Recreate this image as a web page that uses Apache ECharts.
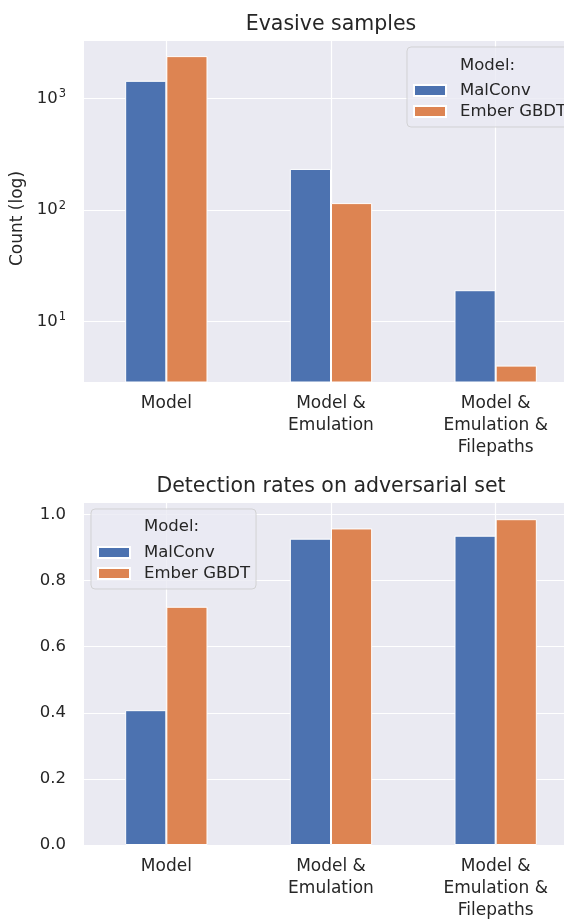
<!DOCTYPE html>
<html>
<head>
<meta charset="utf-8">
<script src="https://cdn.jsdelivr.net/npm/echarts@6/dist/echarts.min.js"></script>
<style>
  html, body { margin: 0; padding: 0; background: #ffffff; }
  #chart { width: 564px; height: 920px; }
</style>
</head>
<body>
<div id="chart"></div>
<script>
// Attack scenarios on the x axis
const categories = ['Model', 'Model &\nEmulation', 'Model &\nEmulation &\nFilepaths'];
const seriesNames = ['MalConv', 'Ember GBDT'];

// Number of evasive samples per scenario (log scale)
const evasiveMalConv = [1440, 233, 19];
const evasiveEmber = [2400, 115, 4];

// Detection rate on the adversarial set
const detectMalConv = [0.408, 0.927, 0.936];
const detectEmber = [0.721, 0.958, 0.986];

const FONT = 'DejaVu Sans';
const TEXT = '#262626';
const BLUE = '#4C72B0';
const ORANGE = '#DD8452';
const PANEL = '#EAEAF2';

const chart = echarts.init(document.getElementById('chart'), null, { renderer: 'canvas' });

function xAxisFor(gridIndex) {
  return {
    type: 'category',
    gridIndex: gridIndex,
    data: categories,
    axisLine: { show: false },
    axisTick: { show: false },
    axisLabel: {
      color: TEXT, fontFamily: FONT, fontSize: 17, lineHeight: 21.8,
      margin: 11, interval: 0
    },
    splitLine: { show: true, alignWithLabel: true, lineStyle: { color: '#ffffff', width: 1.2 } }
  };
}

function legendFor(left, top) {
  return {
    orient: 'vertical',
    left: left, top: top,
    data: seriesNames,
    icon: 'rect',
    padding: [35, 6, 7, 6],
    itemWidth: 32, itemHeight: 11, itemGap: 4,
    backgroundColor: 'rgba(234,234,242,0.8)',
    borderColor: 'rgba(204,204,204,0.8)',
    borderWidth: 1, borderRadius: 4,
    selectedMode: false,
    formatter: function (name) { return '{t|' + name + '}'; },
    textStyle: {
      color: TEXT, fontFamily: FONT, fontSize: 16.5,
      rich: { t: { color: TEXT, fontFamily: FONT, fontSize: 16.5, padding: [0, 0, 0, 9] } }
    }
  };
}

function barSeries(name, color, data, index) {
  return {
    type: 'bar', name: name,
    xAxisIndex: index, yAxisIndex: index,
    data: data,
    barWidth: '25%', barGap: '0%',
    itemStyle: { color: color, borderColor: '#ffffff', borderWidth: 1 },
    emphasis: { disabled: true }
  };
}

const option = {
  backgroundColor: '#ffffff',
  animation: false,
  textStyle: { fontFamily: FONT },
  title: [
    { text: 'Evasive samples', left: 331, top: 13, textAlign: 'center', padding: 0,
      textStyle: { color: TEXT, fontFamily: FONT, fontSize: 20.5, fontWeight: 'normal', lineHeight: 24 } },
    { text: 'Detection rates on adversarial set', left: 331, top: 475, textAlign: 'center', padding: 0,
      textStyle: { color: TEXT, fontFamily: FONT, fontSize: 20.5, fontWeight: 'normal', lineHeight: 24 } },
    { text: 'Model:', left: 460, top: 56, padding: 0, z: 10,
      textStyle: { color: TEXT, fontFamily: FONT, fontSize: 16.5, fontWeight: 'normal', lineHeight: 20 } },
    { text: 'Model:', left: 144, top: 517, padding: 0, z: 10,
      textStyle: { color: TEXT, fontFamily: FONT, fontSize: 16.5, fontWeight: 'normal', lineHeight: 20 } }
  ],
  legend: [legendFor(407, 47), legendFor(91, 509)],
  grid: [
    { left: 84, top: 41, width: 494, height: 341, show: true, backgroundColor: PANEL, borderWidth: 0,
      outerBoundsMode: 'none', containLabel: false },
    { left: 84, top: 503, width: 494, height: 342, show: true, backgroundColor: PANEL, borderWidth: 0,
      outerBoundsMode: 'none', containLabel: false }
  ],
  xAxis: [xAxisFor(0), xAxisFor(1)],
  yAxis: [
    {
      type: 'log', logBase: 10, gridIndex: 0,
      min: 2.85, max: 3280,
      name: 'Count (log)', nameLocation: 'middle', nameGap: 56,
      nameTextStyle: { color: TEXT, fontFamily: FONT, fontSize: 17, padding: [0, 14, 0, 0] },
      axisLine: { show: false }, axisTick: { show: false },
      axisLabel: {
        color: TEXT, fontFamily: FONT, fontSize: 16.5, margin: 18,
        showMinLabel: false, showMaxLabel: false,
        formatter: function (v) {
          return '{b|10}{sup|' + Math.round(Math.log10(v)) + '}';
        },
        rich: {
          b: { fontFamily: FONT, fontSize: 16.5, color: TEXT, lineHeight: 20 },
          sup: { fontFamily: FONT, fontSize: 11.5, color: TEXT, lineHeight: 20, verticalAlign: 'top', padding: [0, 0, 9, 1] }
        }
      },
      splitLine: { show: true, showMinLine: false, showMaxLine: false, lineStyle: { color: '#ffffff', width: 1.2 } }
    },
    {
      type: 'value', gridIndex: 1,
      min: 0, max: 1.035, interval: 0.2,
      axisLine: { show: false }, axisTick: { show: false },
      axisLabel: {
        color: TEXT, fontFamily: FONT, fontSize: 16.5, margin: 18,
        showMaxLabel: false,
        formatter: function (v) { return v.toFixed(1); }
      },
      splitLine: { show: true, showMinLine: false, showMaxLine: false, lineStyle: { color: '#ffffff', width: 1.2 } }
    }
  ],
  series: [
    barSeries(seriesNames[0], BLUE, evasiveMalConv, 0),
    barSeries(seriesNames[1], ORANGE, evasiveEmber, 0),
    barSeries(seriesNames[0], BLUE, detectMalConv, 1),
    barSeries(seriesNames[1], ORANGE, detectEmber, 1)
  ]
};

chart.setOption(option);
</script>
</body>
</html>
